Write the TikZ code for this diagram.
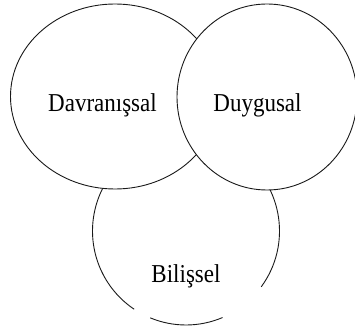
\documentclass[tikz,border=0pt]{standalone}
\usepackage{fontspec}
\setmainfont{Liberation Serif}
\begin{document}
\begin{tikzpicture}[x=1pt,y=1pt,
  ring/.style={draw=black!90,line width=0.9pt},
  lbl/.style={anchor=base,inner sep=0pt,font=\fontsize{23}{26}\selectfont}]
\useasboundingbox (0,0) rectangle (355,332);
\coordinate (B) at (186,101);
% bottom circle (with gaps)
\draw[ring] ([shift={(-36.4:93.5 and 94)}]B) arc[start angle=-36.4,end angle=236.3,x radius=93.5,y radius=94];
\draw[ring] ([shift={(-112.5:93.5 and 94)}]B) arc[start angle=-112.5,end angle=-67,x radius=93.5,y radius=94];
% left ellipse
\draw[ring,fill=white] (115,235.5) ellipse[x radius=104.5,y radius=92.5];
% right circle
\draw[ring,fill=white] (267,235) ellipse[x radius=90,y radius=93];
\node[lbl] (dav) at (102.5,220) {\scalebox{1}[1.12]{Davranışsal}};
\node[lbl] (duy) at (257.5,220) {\scalebox{1}[1.12]{Duygusal}};
\node[lbl] (bil) at (186,50) {\scalebox{1}[1.12]{Bilişsel}};
\end{tikzpicture}
\end{document}
